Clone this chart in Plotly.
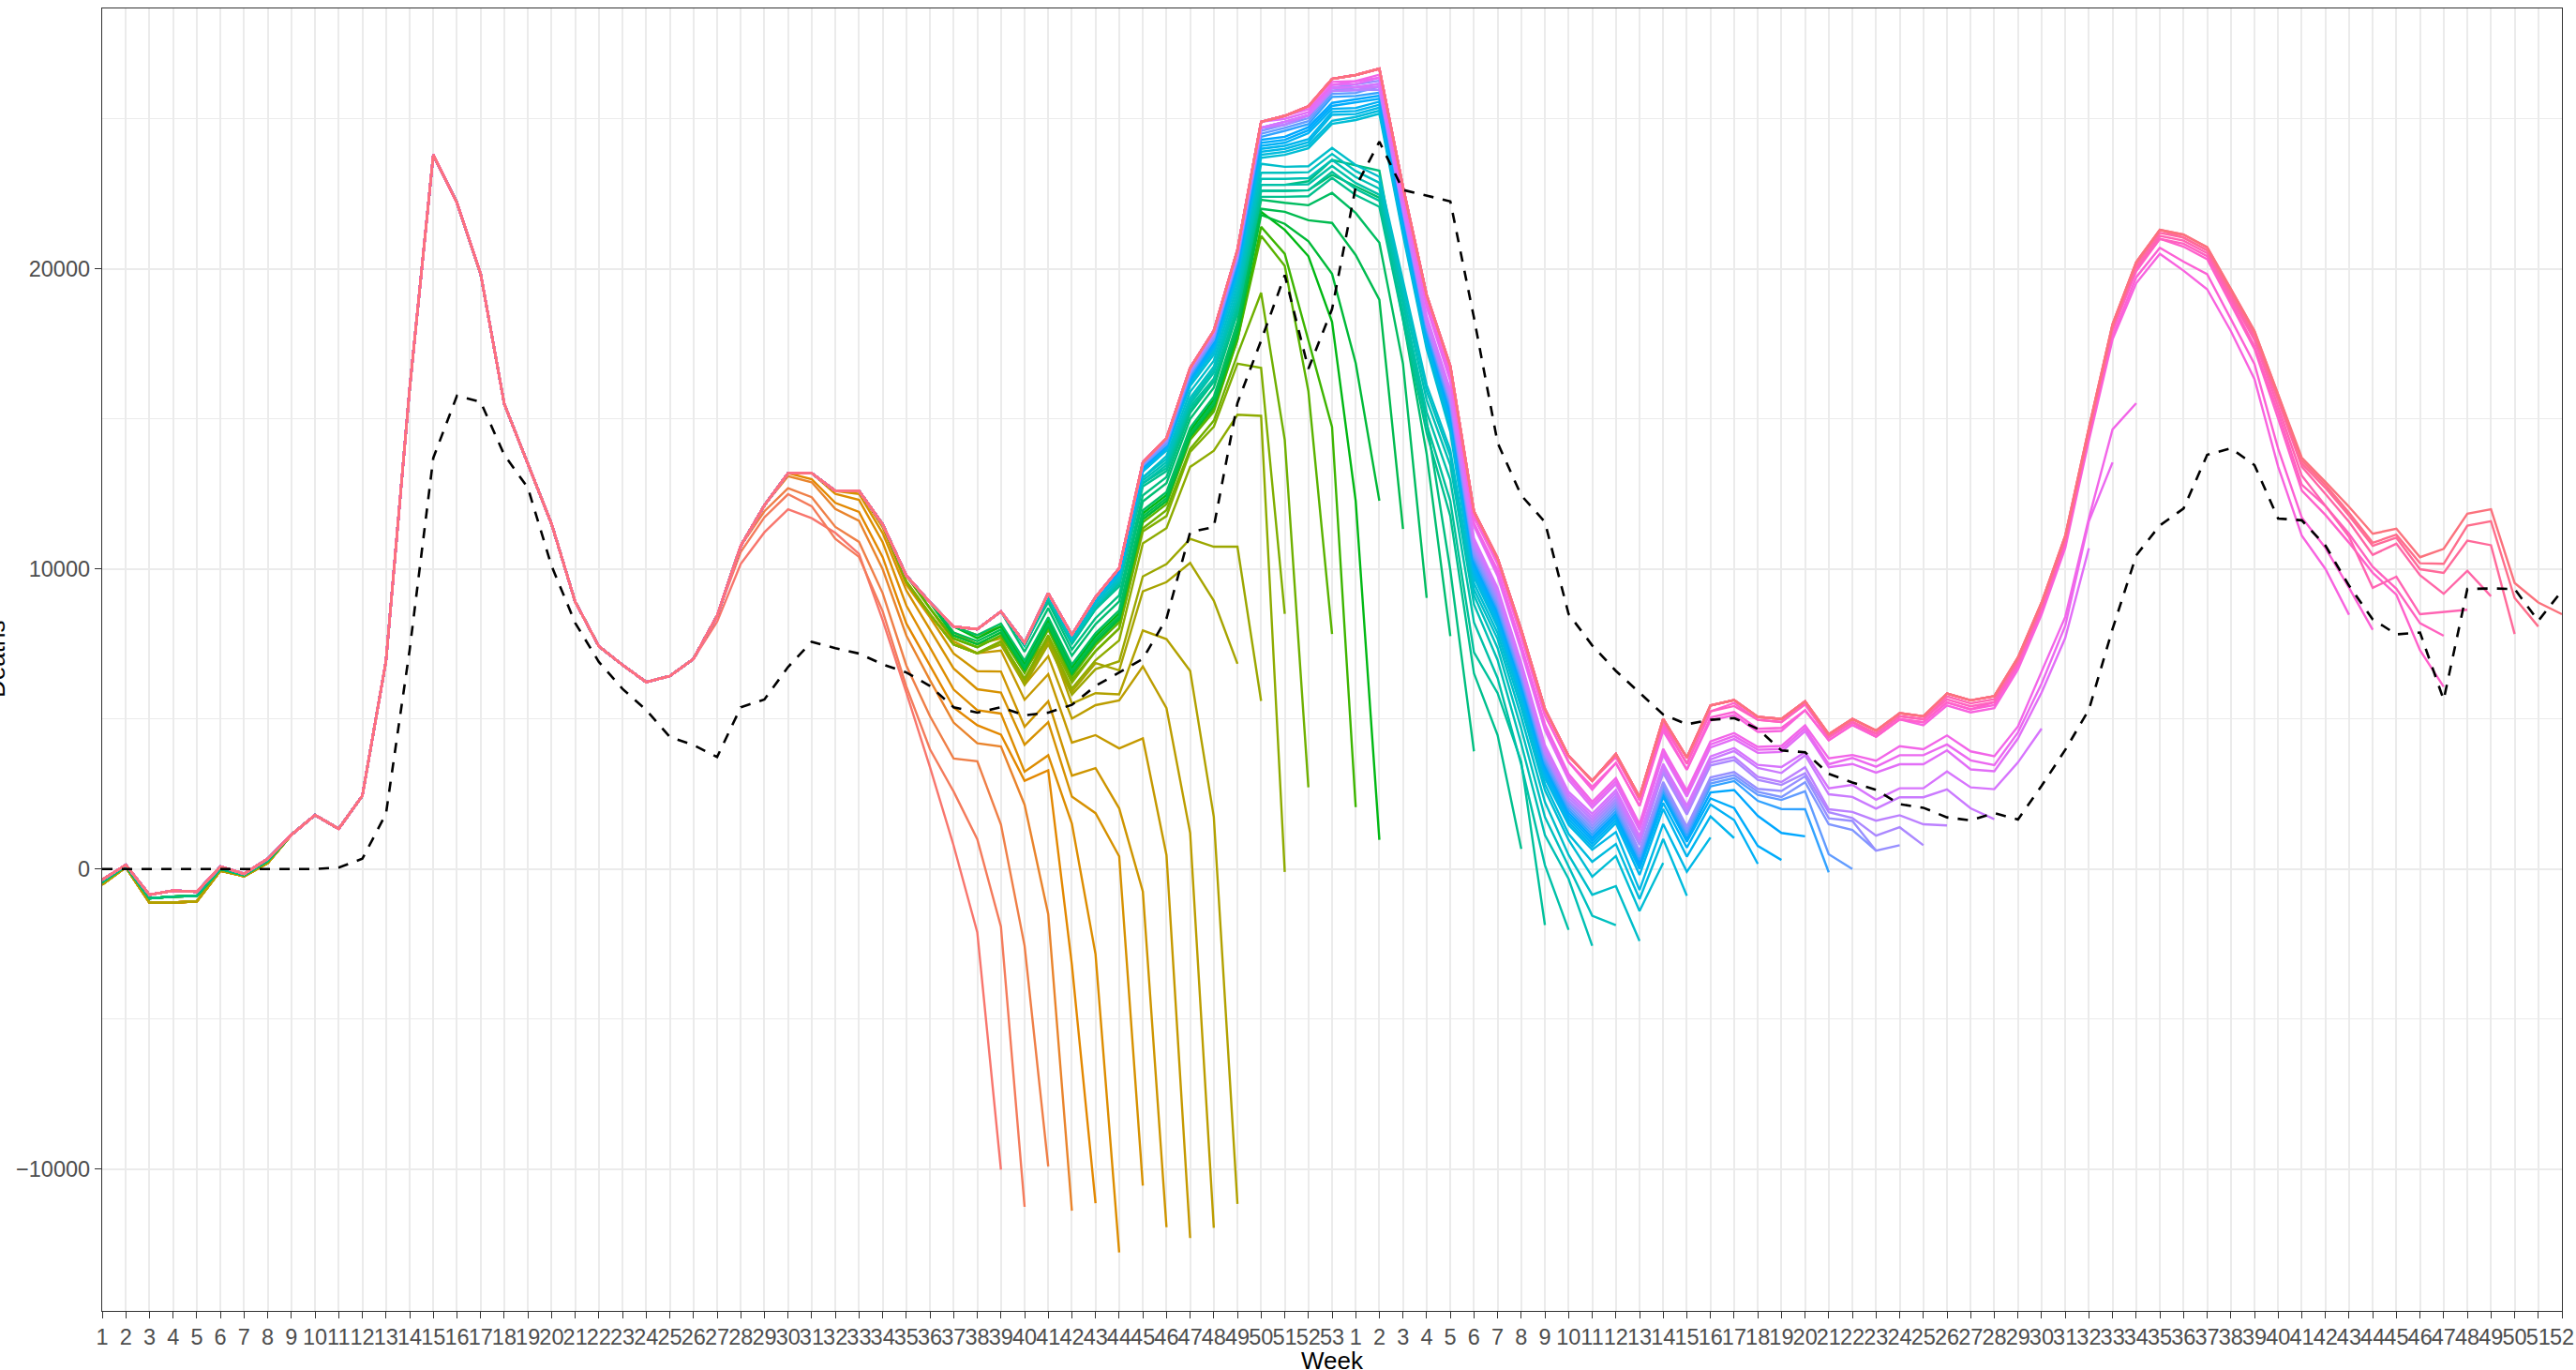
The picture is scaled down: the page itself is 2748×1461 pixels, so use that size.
import math
import plotly.graph_objects as go

# ---------------- data ----------------
week_labels_2020 = [str(w) for w in range(1, 54)]
week_labels_2021 = [str(w) for w in range(1, 53)]

# latest (final) vintage, weekly values
latest_2020 = [-360, 140, -860, -720, -760, 80, -160, 340, 1140, 1800, 1340, 2440, 6930, 16000,
               23800, 22200, 19840, 15500, 13500, 11500, 8900, 7420, 6800, 6230, 6430, 7000, 8440,
               10770, 12120, 13190, 13190, 12600, 12600, 11490, 9780, 8890, 8080, 7990, 8580, 7540,
               9190, 7810, 9060, 10020, 13550, 14360, 16700, 17940, 20640, 24900, 25100, 25420, 26330]
latest_2021 = [26460, 26670, 22730, 19130, 16760, 11920, 10360, 7970, 5330, 3770, 2940, 3830, 2400,
               5000, 3710, 5450, 5630, 5070, 5000, 5590, 4490, 5000, 4610, 5190, 5090, 5850, 5620,
               5760, 7050, 8880, 11100, 14690, 18150, 20220, 21300, 21140, 20720, 19330, 17930,
               15810, 13710, 12900, 12070, 11170, 11340, 10390, 10670, 11840, 11990, 9530, 8880, 8490]

# dashed black series
dashed_2020 = [0, 0, 0, 0, 0, 0, 0, 0, 0, 0, 50, 340, 1840, 7300, 13700, 15770, 15570, 13800, 12700,
               10100, 8200, 6900, 6000, 5300, 4400, 4130, 3730, 5390, 5650, 6730, 7570, 7360, 7180,
               6820, 6550, 6100, 5390, 5210, 5390, 5120, 5210, 5470, 6100, 6550, 7000, 8350, 11220,
               11400, 15530, 17610, 19790, 16670, 18660]
dashed_2021 = [22730, 24240, 22630, 22440, 22250, 18370, 14200, 12450, 11560, 8500, 7450, 6600, 5870,
               5150, 4820, 4970, 5030, 4670, 3950, 3890, 3170, 2880, 2640, 2160, 2040, 1720, 1620,
               1860, 1650, 2770, 3970, 5310, 8000, 10450, 11450, 12010, 13800, 14020, 13460, 11680,
               11620, 10780, 9440, 8320, 7820, 7880, 5640, 9330, 9350, 9330, 8270, 9270]

# early-2020 weeks 1-8 as shown by the older vintages
early_weeks_red = [-520, 60, -1120, -1120, -1080, -60, -240, 200]
early_weeks_green = [-440, 100, -980, -920, -900, 0, -200, 270]

# Each earlier vintage: last plotted week (position on the 105-week axis) and its shortfall
# below the latest vintage, in hundreds of deaths, listed from its last week backwards.
red_olive_end = [39, 40, 41, 42, 43, 44, 45, 46, 47, 48, 49]
red_olive_gap = [
    [186, 101, 73, 55, 39, 32, 21, 14, 15, 12, 9, 6, 2],
    [188, 105, 70, 55, 49, 37, 29, 22, 16, 11, 7, 4, 2],
    [191, 101, 71, 44, 44, 38, 30, 23, 17, 12, 8, 5, 2],
    [192, 107, 54, 45, 38, 32, 26, 20, 15, 10, 6, 3, 1],
    [202, 110, 59, 46, 41, 32, 27, 21, 16, 11, 7, 4, 2],
    [228, 119, 63, 54, 43, 34, 27, 21, 15, 10, 6, 3, 1],
    [241, 96, 72, 54, 43, 34, 27, 20, 14, 9, 5, 3, 1],
    [263, 143, 80, 57, 47, 36, 28, 20, 14, 9, 5, 3, 1],
    [290, 139, 92, 60, 46, 36, 27, 19, 13, 8, 5, 2],
    [299, 155, 90, 68, 44, 36, 28, 21, 14, 9, 5, 2],
    [318, 162, 101, 67, 56, 42, 32, 23, 15, 9, 5, 2],
]

green_end = [49, 50, 51, 51, 52, 53, 54, 55, 55, 56, 57, 58, 59]
green_gap = [
    [138, 90, 65, 48, 43, 34, 22, 19, 16, 13, 10, 8, 6, 4, 2],
    [193, 99, 72, 57, 42, 38, 31, 24, 20, 17, 14, 11, 8, 6, 4, 2],
    [252, 98, 55, 40, 33, 30, 27, 24, 21, 18, 15, 12, 10, 8, 6, 4, 2],
    [166, 82, 38, 32, 28, 26, 23, 20, 18, 16, 14, 12, 10, 8, 6, 4, 2],
    [227, 108, 57, 35, 30, 27, 24, 22, 20, 18, 15, 12, 10, 8, 6, 4, 2],
    [185, 95, 50, 38, 30, 27, 24, 22, 20, 18, 16, 14, 12, 10, 8, 6, 4, 2],
    [244, 116, 78, 46, 35, 30, 26, 23, 21, 19, 17, 15, 13, 11, 9, 7, 5, 3],
    [257, 142, 81, 50, 38, 30, 26, 23, 21, 19, 17, 15, 13, 11, 9, 7, 5, 3],
    [144, 96, 65, 45, 36, 31, 28, 25, 23, 21, 19, 17, 15, 13, 11, 9, 7, 5, 3],
    [114, 77, 60, 48, 38, 32, 29, 26, 24, 22, 20, 18, 16, 14, 12, 10, 8, 6, 4, 2],
    [101, 59, 58, 46, 38, 33, 29, 26, 24, 22, 20, 18, 16, 14, 12, 10, 8, 6, 4, 2],
    [90, 53, 44, 43, 37, 32, 28, 25, 23, 21, 19, 17, 15, 13, 11, 9, 7, 5, 3],
    [80, 68, 42, 38, 34, 30, 27, 25, 23, 21, 19, 17, 15, 13, 11, 9, 7, 5, 3],
]

teal_blue_end = [61, 62, 63, 64, 65, 66, 67, 68, 69, 70, 71, 72, 73, 74, 75, 76, 77]
teal_blue_gap = [
    [73, 59, 54, 50, 46, 44, 46, 40, 33, 30, 27, 25, 21, 17, 14, 11, 8, 6, 4, 3, 2, 1],
    [72, 44, 45, 47, 45, 43, 42, 44, 38, 31, 28, 25, 23, 19, 16, 13, 10, 7, 5, 4, 3, 2, 1],
    [58, 52, 45, 40, 37, 38, 39, 39, 42, 36, 29, 26, 23, 21, 17, 14, 12, 9, 7, 5, 3, 2, 1],
    [55, 41, 42, 38, 34, 31, 33, 35, 36, 40, 34, 27, 24, 21, 19, 16, 13, 11, 8, 6, 4, 3, 2, 1],
    [57, 45, 37, 36, 33, 30, 28, 30, 32, 33, 38, 32, 25, 22, 19, 17, 14, 12, 10, 7, 5, 4, 3, 2, 1],
    [48, 44, 38, 33, 31, 29, 27, 26, 28, 30, 31, 36, 30, 23, 20, 17, 14, 12, 10, 8, 6, 5, 3, 2, 1],
    [48, 38, 34, 32, 28, 27, 26, 25, 24, 22, 18, 16, 15, 15, 15, 14, 13, 12, 10, 8, 6, 4, 3, 2, 1],
    [46, 40, 34, 30, 27, 26, 25, 24, 23, 22, 20, 17, 15, 14, 14, 14, 13, 12, 11, 9, 7, 5, 4, 3, 2, 1],
    [44, 38, 35, 31, 26, 23, 23, 23, 22, 22, 21, 19, 16, 14, 13, 13, 12, 12, 11, 10, 8, 6, 5, 4, 3, 2, 1],
    [46, 37, 33, 30, 26, 23, 22, 22, 22, 21, 21, 20, 18, 15, 13, 12, 12, 11, 11, 10, 9, 7, 6, 4, 3, 2, 1],
    [49, 40, 33, 30, 28, 24, 22, 21, 21, 21, 20, 20, 19, 17, 14, 12, 11, 11, 10, 9, 9, 8, 6, 5, 4, 3, 2, 1],
    [47, 43, 36, 31, 28, 26, 23, 21, 20, 20, 20, 19, 19, 18, 16, 13, 11, 10, 9, 9, 8, 8, 7, 6, 5, 4, 3, 2, 1],
    [45, 38, 33, 30, 29, 27, 25, 22, 20, 19, 19, 19, 18, 18, 17, 15, 12, 10, 9, 8, 8, 7, 7, 6, 5, 4, 3, 2, 2, 1],
    [46, 36, 30, 28, 27, 27, 26, 24, 21, 19, 18, 18, 18, 17, 17, 16, 14, 12, 9, 8, 7, 6, 6, 5, 5, 4, 3, 3, 2, 1],
    [50, 40, 30, 27, 26, 26, 26, 25, 23, 20, 18, 17, 17, 17, 16, 16, 15, 13, 11, 8, 6, 6, 5, 5, 4, 4, 3, 3, 2, 2, 1],
    [40, 37, 30, 27, 26, 25, 25, 25, 24, 22, 19, 17, 16, 16, 16, 15, 15, 14, 12, 10, 7, 5, 4, 4, 4, 3, 3, 3, 2, 2, 1, 1],
    [44, 40, 34, 28, 25, 24, 24, 24, 24, 23, 21, 18, 16, 15, 15, 15, 14, 14, 13, 11, 10, 6, 4, 3, 3, 3, 2, 2, 2, 2, 1, 1],
]

purple_magenta_end = [78, 79, 81, 83, 85, 86, 87]
purple_magenta_gap = [
    [43, 38, 35, 33, 26, 24, 22, 21, 20, 20, 19, 18, 16, 15, 14, 15, 15, 14, 13, 12, 11, 10, 8, 7, 5, 4, 3, 3, 2, 2, 1, 1],
    [44, 36, 34, 30, 31, 25, 22, 21, 20, 19, 19, 18, 17, 15, 14, 13, 14, 14, 13, 12, 11, 10, 9, 7, 6, 5, 4, 3, 3, 2, 2, 1, 1],
    [41, 36, 32, 27, 28, 26, 26, 20, 18, 18, 17, 17, 18, 17, 16, 14, 13, 12, 13, 13, 12, 11, 10, 9, 8, 7, 6, 4, 3, 3, 2, 2, 1, 1],
    [42, 35, 31, 29, 26, 24, 25, 23, 22, 18, 17, 16, 16, 16, 17, 16, 15, 13, 12, 11, 12, 12, 11, 10, 9, 8, 7, 6, 5, 4, 3, 3, 2, 2, 1],
    [40, 34, 30, 27, 25, 23, 19, 16, 17, 14, 15, 11, 10, 11, 12, 13, 14, 13, 12, 11, 10, 9, 8, 7, 7, 6, 5, 5, 4, 4, 3, 3, 2, 2, 1],
    [46, 31, 30, 27, 25, 23, 20, 17, 13, 14, 12, 13, 10, 9, 10, 11, 12, 13, 12, 11, 10, 9, 8, 7, 6, 6, 5, 4, 4, 3, 3, 3, 2, 2, 1],
    [47, 35, 30, 27, 23, 23, 20, 17, 14, 11, 11, 10, 12, 8, 8, 9, 10, 11, 12, 11, 10, 9, 8, 7, 6, 5, 5, 4, 4, 3, 3, 2, 2, 2, 1],
]

pink_end = [96, 97, 100, 100, 101, 102, 103, 104]
pink_gap = [
    [36, 29, 26, 24, 16, 14, 14, 12, 8, 7, 5, 4, 4, 4, 4, 4, 4, 4, 3, 2, 2, 2, 2, 3, 4, 5, 5, 5, 4, 4, 3, 3, 3, 2, 2, 2, 2, 2, 1, 1, 1],
    [32, 27, 22, 20, 18, 11, 10, 9, 9, 6, 5, 4, 3, 3, 3, 3, 3, 3, 3, 2, 2, 2, 2, 2, 3, 3, 4, 4, 4, 4, 3, 3, 3, 2, 2, 2, 2, 1, 1, 1],
    [46, 31, 22, 13, 12, 11, 11, 8, 6, 5, 4, 4, 3, 3, 2, 2, 2, 2, 2, 2, 3, 3, 2, 2, 2, 1, 1, 1, 1, 1, 1, 2, 2, 2, 1, 1],
    [29, 22, 20, 11, 9, 8, 9, 6, 5, 4, 3, 3, 3, 2, 2, 2, 2, 2, 2, 2, 2, 2, 1, 1, 1, 1, 1, 1, 1, 1, 2, 2, 2, 1, 1],
    [32, 21, 19, 16, 18, 10, 8, 6, 4, 3, 3, 2, 2, 2, 2, 1, 1, 1, 1, 1, 1, 1, 1, 1, 1, 1, 1, 1],
    [29, 19, 15, 6, 5, 7, 5, 4, 3, 2, 2, 2, 1, 1, 1, 1, 1, 1, 1, 1, 1],
    [17, 12, 9, 8, 4, 3, 4, 3, 2, 2, 1, 1, 1, 1, 1],
    [8, 5, 4, 4, 5, 2, 2, 3, 2, 1, 1],
]

y_tick_values = [-10000, 0, 10000, 20000]
y_tick_text = ["\u221210000", "0", "10000", "20000"]

# ---------------- build series ----------------
latest = latest_2020 + latest_2021
dashed = dashed_2020 + dashed_2021
tick_text = week_labels_2020 + week_labels_2021
positions = list(range(1, len(latest) + 1))

vintages = []  # (end, gaps, early)
for e, g in zip(red_olive_end, red_olive_gap):
    vintages.append((e, g, early_weeks_red))
for e, g in zip(green_end, green_gap):
    vintages.append((e, g, early_weeks_green))
for e, g in zip(teal_blue_end, teal_blue_gap):
    vintages.append((e, g, None))
for e, g in zip(purple_magenta_end, purple_magenta_gap):
    vintages.append((e, g, None))
for e, g in zip(pink_end, pink_gap):
    vintages.append((e, g, None))
vintages.append((len(latest), [], None))


def hcl_hex(h, c=100.0, l=65.0):
    hr = math.radians(h)
    U, V = c * math.cos(hr), c * math.sin(hr)
    Xn, Yn, Zn = 95.047, 100.0, 108.883
    Y = Yn * (((l + 16.0) / 116.0) ** 3)
    t = Xn + 15 * Yn + 3 * Zn
    un, vn = 4 * Xn / t, 9 * Yn / t
    Q = U / (13 * l) + un
    R = V / (13 * l) + vn
    X = 9.0 * Y * Q / (4.0 * R)
    Z = -X / 3.0 - 5.0 * Y + 3.0 * Y / R
    x, y, z = X / 100.0, Y / 100.0, Z / 100.0
    rgb = [3.240479 * x - 1.537150 * y - 0.498535 * z,
           -0.969256 * x + 1.875992 * y + 0.041556 * z,
           0.055648 * x - 0.204043 * y + 1.057311 * z]
    out = []
    for u in rgb:
        u = min(max(u, 0.0), 1.0)
        u = 1.055 * u ** (1 / 2.4) - 0.055 if u > 0.0031308 else 12.92 * u
        out.append(int(round(u * 255)))
    return "#%02X%02X%02X" % tuple(out)


n = len(vintages)
colors = [hcl_hex(15 + 360.0 * k / n) for k in range(n)]

fig = go.Figure()
for k, (e, gaps, early) in enumerate(vintages):
    vals = list(latest[:e])
    if early is not None:
        vals[:len(early)] = early
    for lag, g in enumerate(gaps):
        idx = e - 1 - lag
        vals[idx] = latest[idx] - g * 100
    fig.add_trace(go.Scatter(x=positions[:e], y=vals, mode="lines",
                             line=dict(color=colors[k], width=2.4),
                             hoverinfo="skip", showlegend=False))

fig.add_trace(go.Scatter(x=positions, y=dashed, mode="lines",
                         line=dict(color="black", width=2.6, dash="11px,10px"),
                         hoverinfo="skip", showlegend=False))

W, H = 2748, 1461
L, R, T, B = 109, 15, 9, 63
plot_w, plot_h = W - L - R, H - T - B

fig.update_layout(
    template="none",
    width=W, height=H,
    margin=dict(l=L, r=R, t=T, b=B, pad=0),
    plot_bgcolor="white", paper_bgcolor="white",
    showlegend=False,
    font=dict(family="Liberation Sans, Arial, sans-serif", color="#4D4D4D"),
    xaxis=dict(range=[1, len(latest)], tickmode="array", tickvals=positions, ticktext=tick_text,
               tickangle=0, ticks="outside", ticklen=7, tickwidth=1.4, tickcolor="#333333",
               tickfont=dict(size=23.5, color="#4D4D4D"),
               showgrid=True, gridcolor="#EBEBEB", gridwidth=2.0,
               showline=True, linecolor="#333333", linewidth=1.4, mirror=True,
               zeroline=False, automargin=False),
    yaxis=dict(range=[-14728, 28678], tickmode="array", tickvals=y_tick_values, ticktext=y_tick_text,
               ticks="outside", ticklen=7, tickwidth=1.4, tickcolor="#333333",
               tickfont=dict(size=23.5, color="#4D4D4D"),
               showgrid=True, gridcolor="#EBEBEB", gridwidth=2.2,
               minor=dict(tickvals=[-5000, 5000, 15000, 25000], showgrid=True,
                          gridcolor="#EBEBEB", gridwidth=1.1, ticks=""),
               showline=True, linecolor="#333333", linewidth=1.4, mirror=True,
               zeroline=False, automargin=False),
    annotations=[
        dict(text="Week", xref="paper", yref="paper", x=0.5, y=-(1451 - (H - B)) / plot_h,
             xanchor="center", yanchor="middle", showarrow=False,
             font=dict(size=26, color="black", family="Liberation Sans, Arial, sans-serif")),
        dict(text="Deaths", xref="paper", yref="paper", x=(-4.5 - L) / plot_w, y=0.5,
             xanchor="center", yanchor="middle", textangle=-90, showarrow=False,
             font=dict(size=26, color="black", family="Liberation Sans, Arial, sans-serif")),
    ],
)

fig.write_html("out.html", config={"displayModeBar": False},
               post_script="document.body.style.margin='0px';document.body.style.overflow='hidden';")
